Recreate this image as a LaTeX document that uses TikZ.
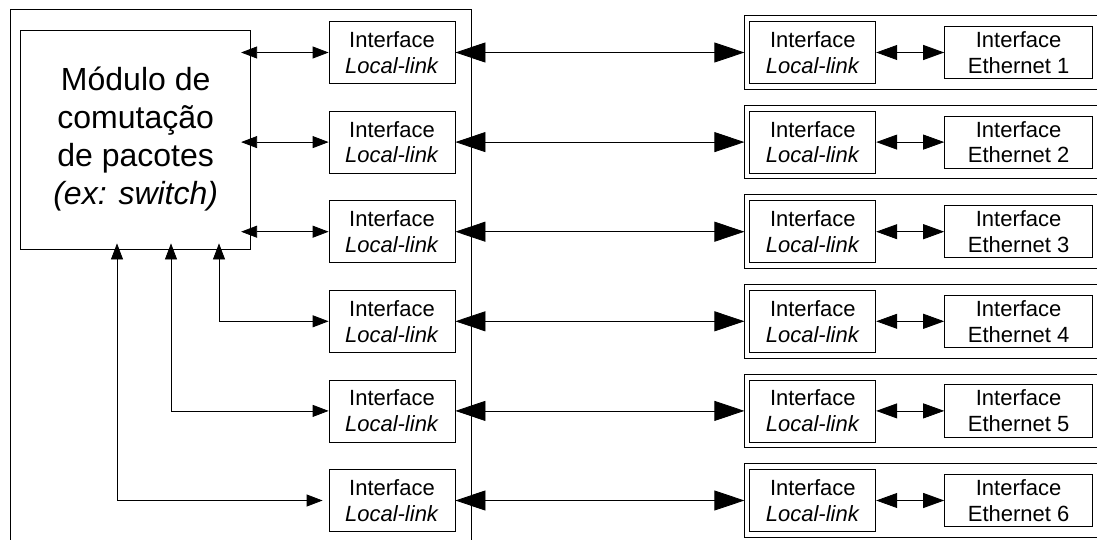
\documentclass[tikz,border=0pt]{standalone}
\usepackage{fontspec}
\setmainfont{Liberation Sans}
\usetikzlibrary{arrows.meta,positioning}

\begin{document}
\begin{tikzpicture}[x=1pt, y=-1pt,
node distance=26.8pt and 68pt,
box/.style={rectangle, draw, line width=0.8pt, minimum width=126pt, minimum height=62pt, inner sep=1pt, align=center, font=\fontsize{22}{25.7}\selectfont},
ethbox/.style={box, minimum width=148pt, minimum height=52.3pt},
portframe/.style={rectangle, draw, line width=0.8pt, minimum width=400pt, minimum height=73.6pt},
smallarr/.style={<->, >={Triangle[length=16pt, width=12pt]}, line width=0.8pt},
bigarr/.style={<->, >={Triangle[length=30pt, width=20pt]}, line width=0.8pt},
etharr/.style={<->, >={Triangle[length=21pt, width=15pt]}, line width=0.8pt}
]
\clip (0,0) rectangle (1097,540);

% FPGA side
\draw[line width=0.8pt] (10,560) |- (471,9) -- (471,560);
\node[draw, line width=0.8pt, minimum width=230pt, minimum height=219pt, align=center, font=\fontsize{32}{38}\selectfont] (sw) at (135.7,139.5) {Módulo de\\comutação\\de pacotes\\\textit{(ex: switch)}};

\node[box] (ll1) at (392,52.5) {Interface\\\textit{Local-link}};
\node[box, below=of ll1] (ll2) {Interface\\\textit{Local-link}};
\node[box, below=of ll2] (ll3) {Interface\\\textit{Local-link}};
\node[box, below=of ll3] (ll4) {Interface\\\textit{Local-link}};
\node[box, below=of ll4] (ll5) {Interface\\\textit{Local-link}};
\node[box, below=of ll5] (ll6) {Interface\\\textit{Local-link}};

% Ports
\node[portframe, right=289pt of ll1] (fr1) {};
\node[portframe, right=289pt of ll2] (fr2) {};
\node[portframe, right=289pt of ll3] (fr3) {};
\node[portframe, right=289pt of ll4] (fr4) {};
\node[portframe, right=289pt of ll5] (fr5) {};
\node[portframe, right=289pt of ll6] (fr6) {};

\node[box, right=5pt of fr1.west] (rl1) {Interface\\\textit{Local-link}};
\node[box, right=5pt of fr2.west] (rl2) {Interface\\\textit{Local-link}};
\node[box, right=5pt of fr3.west] (rl3) {Interface\\\textit{Local-link}};
\node[box, right=5pt of fr4.west] (rl4) {Interface\\\textit{Local-link}};
\node[box, right=5pt of fr5.west] (rl5) {Interface\\\textit{Local-link}};
\node[box, right=5pt of fr6.west] (rl6) {Interface\\\textit{Local-link}};

\node[ethbox, right=of rl1] (eth1) {Interface\\Ethernet 1};
\node[ethbox, right=of rl2] (eth2) {Interface\\Ethernet 2};
\node[ethbox, right=of rl3] (eth3) {Interface\\Ethernet 3};
\node[ethbox, right=of rl4] (eth4) {Interface\\Ethernet 4};
\node[ethbox, right=of rl5] (eth5) {Interface\\Ethernet 5};
\node[ethbox, right=of rl6] (eth6) {Interface\\Ethernet 6};

% Switch to local-link
\draw[smallarr, shorten >=-10pt] (ll1.west) -- (ll1.west -| sw.east);
\draw[smallarr, shorten >=-10pt] (ll2.west) -- (ll2.west -| sw.east);
\draw[smallarr, shorten >=-10pt] (ll3.west) -- (ll3.west -| sw.east);
\draw[smallarr, shorten <=-6pt] ([xshift=83.3pt]sw.south) |- (ll4.west);
\draw[smallarr, shorten <=-6pt] ([xshift=35.3pt]sw.south) |- (ll5.west);
\draw[smallarr, shorten <=-6pt, shorten >=6pt] ([xshift=-18.7pt]sw.south) |- (ll6.west);

% Links
\draw[bigarr] (ll1) -- (fr1);
\draw[bigarr] (ll2) -- (fr2);
\draw[bigarr] (ll3) -- (fr3);
\draw[bigarr] (ll4) -- (fr4);
\draw[bigarr] (ll5) -- (fr5);
\draw[bigarr] (ll6) -- (fr6);

\draw[etharr] (rl1) -- (eth1);
\draw[etharr] (rl2) -- (eth2);
\draw[etharr] (rl3) -- (eth3);
\draw[etharr] (rl4) -- (eth4);
\draw[etharr] (rl5) -- (eth5);
\draw[etharr] (rl6) -- (eth6);

\end{tikzpicture}
\end{document}
